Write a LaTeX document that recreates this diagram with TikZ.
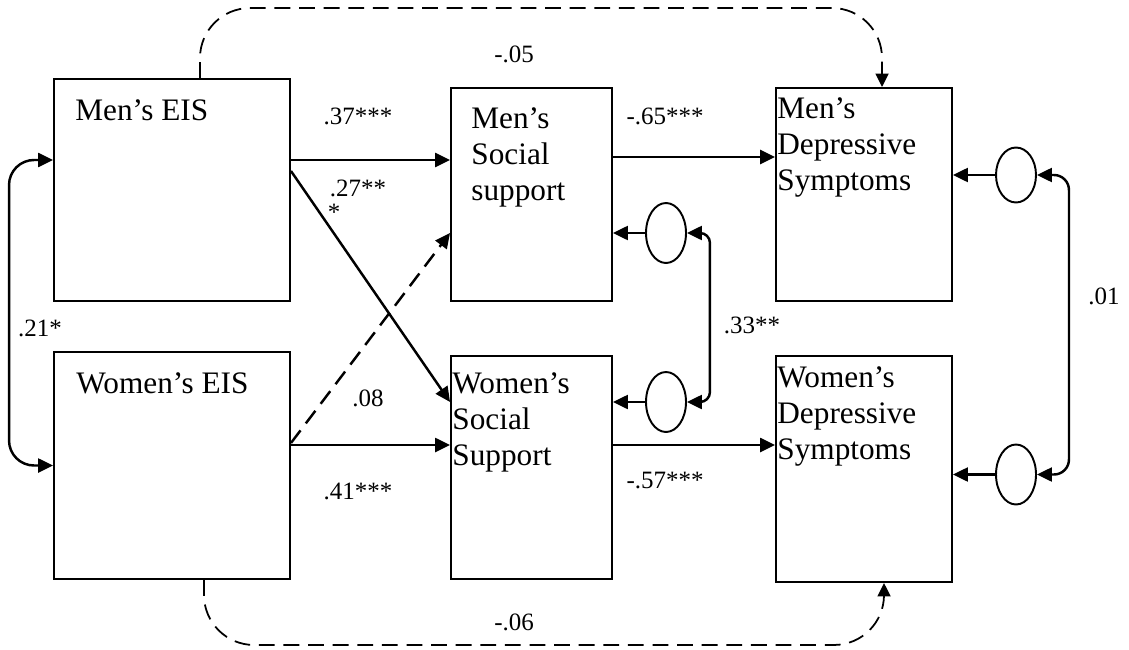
\documentclass[tikz,border=0pt]{standalone}
\usepackage{fontspec}
\setmainfont{Liberation Serif}
\usetikzlibrary{arrows.meta,shapes.geometric}

\begin{document}
\begin{tikzpicture}[
  var/.style={draw, line width=1.1pt, inner sep=0pt},
  vartext/.style={anchor=north west, inner sep=0pt, align=left, font=\fontsize{17.8}{20.5}\selectfont},
  err/.style={draw, ellipse, line width=1.1pt, inner sep=0pt, minimum width=0.8cm, minimum height=1.2cm},
  coef/.style={inner sep=0pt, font=\fontsize{14.2}{16}\selectfont},
  arr/.style={line width=1.4pt, -{Triangle[length=0.3cm,width=0.28cm]}},
  dasharr/.style={arr, dash pattern=on 9pt off 5pt},
  curvearr/.style={line width=1pt, dash pattern=on 9pt off 5pt, rounded corners=1cm, -{Triangle[length=0.27cm,width=0.26cm]}},
  covarr/.style={line width=1.4pt, rounded corners=0.5cm, {Triangle[length=0.3cm,width=0.28cm]}-{Triangle[length=0.3cm,width=0.28cm]}},
]
\useasboundingbox (0,0) rectangle (22.58,12.98);

% observed variables
\node[var, minimum width=4.72cm, minimum height=4.44cm] (mEIS) at (3.44,9.18) {};
\node[var, minimum width=4.72cm, minimum height=4.54cm] (wEIS) at (3.44,3.67) {};
\node[var, minimum width=3.22cm, minimum height=4.26cm] (mSS) at (10.63,9.09) {};
\node[var, minimum width=3.22cm, minimum height=4.46cm] (wSS) at (10.63,3.63) {};
\node[var, minimum width=3.52cm, minimum height=4.26cm] (mDep) at (17.28,9.09) {};
\node[var, minimum width=3.52cm, minimum height=4.52cm] (wDep) at (17.28,3.60) {};

\node[vartext] (mEIStext) at ([shift={(0.44,-0.42)}]mEIS.north west) {Men’s EIS};
\node[vartext] (wEIStext) at ([shift={(0.46,-0.42)}]wEIS.north west) {Women’s EIS};
\node[vartext] (mSStext) at ([shift={(0.42,-0.40)}]mSS.north west) {Men’s\\Social\\support};
\node[vartext] (wSStext) at ([shift={(0.04,-0.34)}]wSS.north west) {Women’s\\Social\\Support};
\node[vartext] (mDeptext) at ([shift={(0.04,-0.20)}]mDep.north west) {Men’s\\Depressive\\Symptoms};
\node[vartext] (wDeptext) at ([shift={(0.04,-0.22)}]wDep.north west) {Women’s\\Depressive\\Symptoms};

% disturbances
\node[err] (eMSS) at (13.32,8.32) {};
\node[err] (eWSS) at (13.32,4.94) {};
\node[err, minimum height=1.1cm] (eMDep) at (20.32,9.48) {};
\node[err] (eWDep) at (20.32,3.49) {};

% paths
\coordinate (mEISa) at ([yshift=0.6cm]mEIS.east);
\coordinate (wEISa) at ([yshift=0.41cm]wEIS.east);
\coordinate (mSSa) at ([yshift=0.75cm]mSS.east);
\coordinate (wSSa) at ([yshift=0.45cm]wSS.east);
\draw[arr] (mEISa) -- (mEISa -| mSS.west);
\draw[arr] ([yshift=0.38cm]mEIS.east) -- ([yshift=1.31cm]wSS.west);
\draw[dasharr] ([yshift=0.45cm]wEIS.east) -- ([yshift=-0.77cm]mSS.west);
\draw[arr] (wEISa) -- (wEISa -| wSS.west);
\draw[arr] (mSSa) -- (mSSa -| mDep.west);
\draw[arr] (wSSa) -- (wSSa -| wDep.west);
\draw[curvearr] ([xshift=0.56cm]mEIS.north) -- ++(0,1.4) -| ([xshift=0.36cm]mDep.north);
\draw[curvearr] ([xshift=0.64cm]wEIS.south) -- ++(0,-1.3) -| ([xshift=0.4cm]wDep.south);

\draw[arr] (eMSS) -- (eMSS -| mSS.east);
\draw[arr] (eWSS) -- (eWSS -| wSS.east);
\draw[arr] (eMDep) -- (eMDep -| mDep.east);
\draw[arr] (eWDep) -- (eWDep -| wDep.east);

% covariances
\draw[covarr] ([yshift=0.6cm]mEIS.west) -- ++(-0.88,0) |- (wEIS.west);
\draw[covarr, rounded corners=0.2cm] (eMSS.east) -- ++(0.46,0) |- (eWSS.east);
\draw[covarr, rounded corners=0.3cm] (eMDep.east) -- ++(0.64,0) |- (eWDep.east);

% coefficients
\node[coef] (b1) at (7.16,10.66) {.37***};
\node[coef] (b2) at (7.16,9.22) {.27**};
\node[coef] (b2x) at (6.68,8.74) {*};
\node[coef] (b3) at (7.36,5.02) {.08};
\node[coef] (b4) at (7.16,3.16) {.41***};
\node[coef] (b5) at (13.30,10.66) {-.65***};
\node[coef] (b6) at (13.30,3.36) {-.57***};
\node[coef] (b7) at (10.28,11.90) {-.05};
\node[coef] (b8) at (10.28,0.54) {-.06};
\node[coef] (r1) at (0.80,6.42) {.21*};
\node[coef] (r2) at (15.04,6.48) {.33**};
\node[coef] (r3) at (22.08,7.06) {.01};
\end{tikzpicture}
\end{document}
